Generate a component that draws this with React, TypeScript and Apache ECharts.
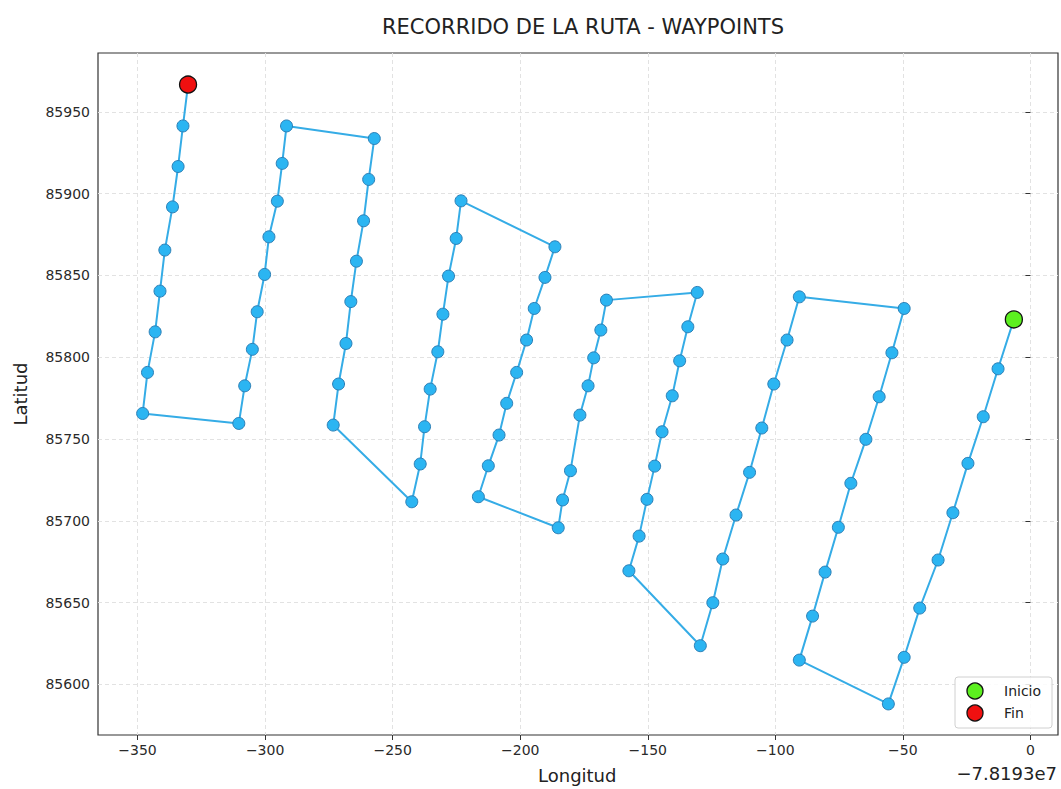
import React, { useEffect, useRef } from "react";
import * as echarts from "echarts";

// Longitude offsets (relative to -7.8193e7) and latitudes, in route order (Inicio -> Fin)
const routeLon: number[] = [
  -6.5, -12.7, -18.5, -24.5, -30.4, -36.2, -43.4, -49.5, -55.7,
  -90.6, -85.4, -80.5, -75.3, -70.4, -64.5, -59.3, -54.3, -49.5,
  -90.6, -95.4, -100.6, -105.3, -110.1, -115.4, -120.6, -124.5, -129.4,
  -157.4, -153.4, -150.3, -147.3, -144.4, -140.4, -137.5, -134.3, -130.6,
  -166.2, -168.4, -171.2, -173.4, -176.6, -180.3, -183.4, -185.1,
  -216.4, -212.5, -208.3, -205.3, -201.4, -197.5, -194.5, -190.3, -186.4,
  -223.2, -225.1, -228.1, -230.3, -232.3, -235.3, -237.5, -239.2, -242.5,
  -273.3, -271.2, -268.3, -266.4, -264.2, -261.4, -259.4, -257.2,
  -291.6, -293.3, -295.2, -298.5, -300.2, -303.1, -305.0, -308.0, -310.3,
  -348.0, -346.1, -343.1, -341.2, -339.3, -336.3, -334.1, -332.2, -330.2,
];
const routeLat: number[] = [
  85823.1, 85792.9, 85763.6, 85735.1, 85704.9, 85676.0, 85646.6, 85616.5, 85588.0,
  85614.8, 85641.7, 85668.6, 85696.0, 85722.9, 85749.8, 85775.8, 85802.7, 85829.8,
  85836.9, 85810.5, 85783.6, 85756.7, 85729.6, 85703.5, 85676.6, 85649.9, 85623.6,
  85669.4, 85690.6, 85713.1, 85733.4, 85754.4, 85776.4, 85797.8, 85818.6, 85839.6,
  85834.9, 85816.6, 85799.6, 85782.5, 85764.6, 85730.6, 85712.7, 85695.7,
  85714.7, 85733.6, 85752.4, 85771.8, 85790.7, 85810.5, 85829.8, 85848.8, 85867.5,
  85895.6, 85872.6, 85849.6, 85826.3, 85803.3, 85780.5, 85757.5, 85734.7, 85711.6,
  85758.5, 85783.6, 85808.4, 85834.0, 85858.7, 85883.4, 85908.7, 85933.7,
  85941.4, 85918.5, 85895.4, 85873.6, 85850.6, 85827.8, 85804.8, 85782.5, 85759.5,
  85765.6, 85790.7, 85815.5, 85840.4, 85865.5, 85891.9, 85916.6, 85941.4, 85966.7,
];
const startPoint: number[] = [-6.5, 85823.1];
const endPoint: number[] = [-330.2, 85966.7];

const xTicks: number[] = [-350, -300, -250, -200, -150, -100, -50, 0];
const yTicks: number[] = [85600, 85650, 85700, 85750, 85800, 85850, 85900, 85950];
const xRange: number[] = [-365.5, 10.8];
const yRange: number[] = [85569, 85986];

const titleText = "RECORRIDO DE LA RUTA - WAYPOINTS";
const xName = "Longitud";
const yName = "Latitud";
const offsetText = "\u22127.8193e7";
const legendNames: string[] = ["Inicio", "Fin"];

const FONT = "DejaVu Sans";

export default function App() {
  const ref = useRef<HTMLDivElement>(null);

  useEffect(() => {
    if (!ref.current) return;
    const chart = echarts.init(ref.current, null, { renderer: "svg" });
    const route = routeLon.map((x, i) => [x, routeLat[i]]);
    const fmt = (v: number) => (v < 0 ? "\u2212" + Math.abs(v) : String(v));

    const axisCommon = {
      type: "value" as const,
      axisLine: { show: false },
      axisTick: { show: true, inside: false, length: 5, lineStyle: { color: "#333", width: 1 } },
      splitLine: { show: true, lineStyle: { color: "#e2e2e2", type: [4, 3], width: 1 } },
      axisLabel: { fontFamily: FONT, fontSize: 14, color: "#2a2a2a", margin: 8 },
    };

    chart.setOption({
      animation: false,
      backgroundColor: "#ffffff",
      title: {
        text: titleText,
        left: 578,
        top: 11,
        textAlign: "center",
        textStyle: { fontFamily: FONT, fontSize: 21, fontWeight: "normal", color: "#222" },
      },
      grid: {
        left: 98,
        right: 3,
        top: 53,
        bottom: 54,
        show: true,
        borderColor: "#333",
        borderWidth: 1.2,
        backgroundColor: "transparent",
      },
      xAxis: {
        ...axisCommon,
        min: xRange[0],
        max: xRange[1],
        axisTick: { ...axisCommon.axisTick, customValues: xTicks },
        axisLabel: { ...axisCommon.axisLabel, customValues: xTicks, formatter: fmt },
      },
      yAxis: {
        ...axisCommon,
        min: yRange[0],
        max: yRange[1],
        axisTick: { ...axisCommon.axisTick, customValues: yTicks },
        axisLabel: { ...axisCommon.axisLabel, customValues: yTicks, formatter: (v: number) => String(v) },
      },
      series: [
        {
          name: "Ruta",
          type: "line",
          data: route,
          symbol: "circle",
          symbolSize: 12,
          showAllSymbol: true,
          lineStyle: { color: "#35ace6", width: 2 },
          itemStyle: { color: "#2bb5f2", borderColor: "#2c7fb6", borderWidth: 1, opacity: 1 },
          z: 2,
        },
        {
          name: legendNames[0],
          type: "scatter",
          data: [startPoint],
          symbol: "circle",
          symbolSize: 17,
          itemStyle: { color: "#5cf01f", borderColor: "#111", borderWidth: 1.3, opacity: 1 },
          z: 3,
        },
        {
          name: legendNames[1],
          type: "scatter",
          data: [endPoint],
          symbol: "circle",
          symbolSize: 17,
          itemStyle: { color: "#f01010", borderColor: "#111", borderWidth: 1.3, opacity: 1 },
          z: 3,
        },
      ],
      graphic: [
        {
          type: "text",
          left: 578 - 40,
          top: 766,
          style: { text: xName, fontFamily: FONT, fontSize: 18, fill: "#222" },
        },
        {
          type: "text",
          x: 20,
          y: 394,
          rotation: Math.PI / 2,
          style: {
            text: yName,
            fontFamily: FONT,
            fontSize: 18,
            fill: "#222",
            align: "center",
            verticalAlign: "middle",
          },
        },
        {
          type: "text",
          x: 1057,
          y: 773,
          style: {
            text: offsetText,
            fontFamily: FONT,
            fontSize: 18,
            fill: "#222",
            align: "right",
            verticalAlign: "middle",
          },
        },
        {
          type: "rect",
          shape: { x: 955, y: 677, width: 97, height: 51, r: 3 },
          style: { fill: "rgba(255,255,255,0.85)", stroke: "#d0d0d0", lineWidth: 1 },
          z: 10,
        },
        {
          type: "circle",
          shape: { cx: 975, cy: 691, r: 8 },
          style: { fill: "#5cf01f", stroke: "#111", lineWidth: 1.3 },
          z: 11,
        },
        {
          type: "circle",
          shape: { cx: 975, cy: 713, r: 8 },
          style: { fill: "#f01010", stroke: "#111", lineWidth: 1.3 },
          z: 11,
        },
        {
          type: "text",
          x: 1004,
          y: 691,
          style: { text: legendNames[0], fontFamily: FONT, fontSize: 14, fill: "#222", verticalAlign: "middle" },
          z: 11,
        },
        {
          type: "text",
          x: 1004,
          y: 713,
          style: { text: legendNames[1], fontFamily: FONT, fontSize: 14, fill: "#222", verticalAlign: "middle" },
          z: 11,
        },
      ],
    });

    return () => chart.dispose();
  }, []);

  return (
    <div
      ref={ref}
      style={{ position: "fixed", left: 0, top: 0, width: 1061, height: 789, background: "#fff" }}
    />
  );
}
